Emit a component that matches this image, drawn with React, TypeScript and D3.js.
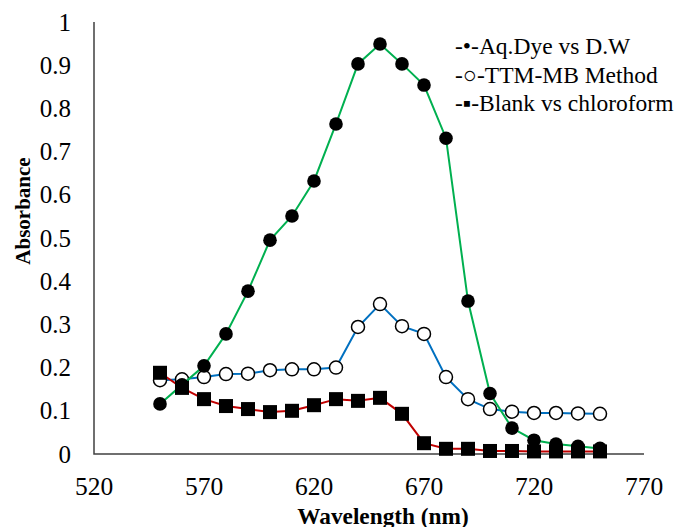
import React from 'react'
import * as d3 from 'd3'

const wavelengths = [550, 560, 570, 580, 590, 600, 610, 620, 630, 640, 650, 660, 670, 680, 690, 700, 710, 720, 730, 740, 750];
const aqDye = [0.116, 0.16, 0.204, 0.278, 0.377, 0.495, 0.551, 0.632, 0.764, 0.903, 0.949, 0.903, 0.854, 0.731, 0.354, 0.14, 0.06, 0.032, 0.023, 0.018, 0.013];
const ttmMb = [0.171, 0.173, 0.178, 0.185, 0.186, 0.194, 0.196, 0.196, 0.2, 0.294, 0.347, 0.296, 0.278, 0.178, 0.127, 0.104, 0.098, 0.095, 0.095, 0.094, 0.093];
const blank = [0.188, 0.153, 0.127, 0.111, 0.104, 0.097, 0.1, 0.113, 0.127, 0.123, 0.13, 0.093, 0.025, 0.012, 0.012, 0.007, 0.007, 0.006, 0.006, 0.006, 0.006];
const xTicks = [520, 570, 620, 670, 720, 770];
const yTicks = [0, 0.1, 0.2, 0.3, 0.4, 0.5, 0.6, 0.7, 0.8, 0.9, 1];
const legendLabels = ['-•-Aq.Dye vs D.W', '-○-TTM-MB Method', '-▪-Blank vs chloroform'];

export default function App() {
  const width = 684, height = 527;
  const left = 94, right = 644, top = 22, bottom = 454;
  const x = d3.scaleLinear().domain([520, 770]).range([left, right]);
  const y = d3.scaleLinear().domain([0, 1]).range([bottom, top]);
  const line = d3.line<[number, number]>().x(d => x(d[0])).y(d => y(d[1]));
  const pts = (vals: number[]) => wavelengths.map((w, i) => [w, vals[i]] as [number, number]);
  const font = '"Liberation Serif", "Times New Roman", serif';

  return (
    <svg width={width} height={height} style={{ position: 'absolute', left: 0, top: 0 }} fontFamily={font}>
      <rect width={width} height={height} fill="#fff" />
      {/* axes */}
      <path d={`M${left},${top}V${bottom}H${right}`} fill="none" stroke="#404040" strokeWidth={1.5} />
      {yTicks.map(t => (
        <text key={t} x={71} y={y(t)} dy="0.34em" textAnchor="end" fontSize={25}>{t}</text>
      ))}
      {xTicks.map(t => (
        <text key={t} x={x(t)} y={495} textAnchor="middle" fontSize={25.5}>{t}</text>
      ))}
      <text transform="translate(30,211) rotate(-90)" textAnchor="middle" fontSize={21} fontWeight="bold">Absorbance</text>
      <text x={383} y={523.5} textAnchor="middle" fontSize={23.3} fontWeight="bold">Wavelength (nm)</text>

      {/* TTM-MB */}
      <path d={line(pts(ttmMb)) || ''} fill="none" stroke="#0070C0" strokeWidth={2} />
      {pts(ttmMb).map((d, i) => (
        <circle key={i} cx={x(d[0])} cy={y(d[1])} r={6.5} fill="#fff" stroke="#000" strokeWidth={1.5} />
      ))}
      {/* Aq. Dye */}
      <path d={line(pts(aqDye)) || ''} fill="none" stroke="#00B050" strokeWidth={2} />
      {pts(aqDye).map((d, i) => (
        <circle key={i} cx={x(d[0])} cy={y(d[1])} r={6.8} fill="#000" />
      ))}
      {/* Blank */}
      <path d={line(pts(blank)) || ''} fill="none" stroke="#C00000" strokeWidth={2} />
      {pts(blank).map((d, i) => (
        <rect key={i} x={x(d[0]) - 7} y={y(d[1]) - 7} width={14} height={14} fill="#000" />
      ))}

      {/* legend */}
      {legendLabels.map((l, i) => (
        <text key={l} x={455} y={54 + i * 28.5} fontSize={23.5}>{l}</text>
      ))}
    </svg>
  );
}
